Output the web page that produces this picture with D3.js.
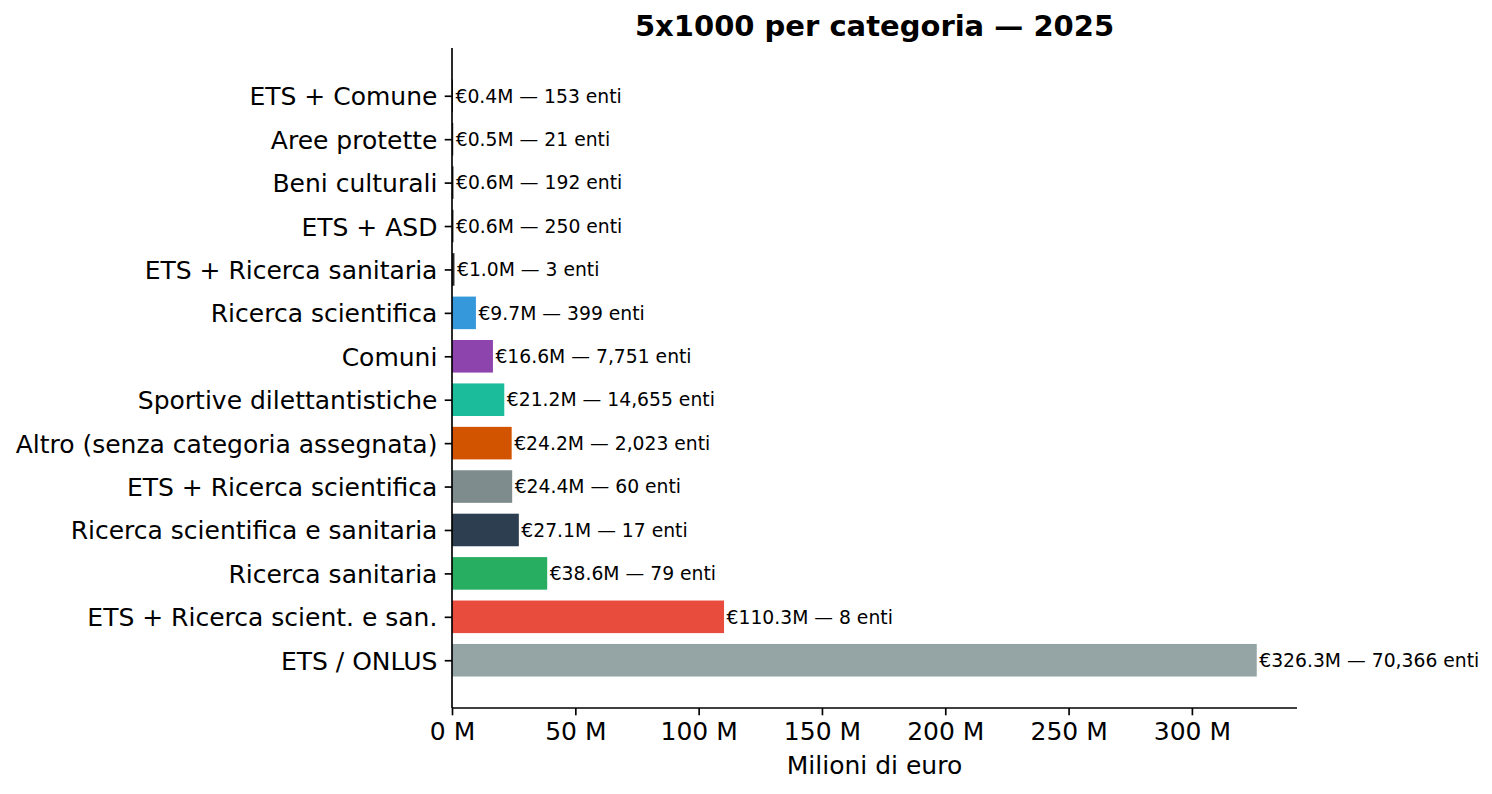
<!DOCTYPE html>
<html>
<head>
<meta charset="utf-8">
<script src="https://cdn.jsdelivr.net/npm/d3@7"></script>
<style>
  html, body { margin: 0; padding: 0; background: #ffffff; }
  svg { display: block; font-family: "DejaVu Sans", sans-serif; }
</style>
</head>
<body>
<svg id="chart" width="1492" height="794"></svg>
<script>
// Categories from bottom (largest) to top
const categories = [
  "ETS / ONLUS",
  "ETS + Ricerca scient. e san.",
  "Ricerca sanitaria",
  "Ricerca scientifica e sanitaria",
  "ETS + Ricerca scientifica",
  "Altro (senza categoria assegnata)",
  "Sportive dilettantistiche",
  "Comuni",
  "Ricerca scientifica",
  "ETS + Ricerca sanitaria",
  "ETS + ASD",
  "Beni culturali",
  "Aree protette",
  "ETS + Comune"
];
const amounts = [326.3, 110.3, 38.6, 27.1, 24.4, 24.2, 21.2, 16.6, 9.7, 1.0, 0.6, 0.6, 0.5, 0.4];
const entiCounts = [70366, 8, 79, 17, 60, 2023, 14655, 7751, 399, 3, 250, 192, 21, 153];
const barColors = ["#95a5a6", "#e74c3c", "#27ae60", "#2c3e50", "#7f8c8d", "#d35400",
                   "#1abc9c", "#8e44ad", "#3498db", "#2c2c2c", "#2c2c2c", "#2c2c2c", "#2c2c2c", "#2c2c2c"];
const xTickValues = [0, 50, 100, 150, 200, 250, 300];
const titleText = "5x1000 per categoria \u2014 2025";
const xLabelText = "Milioni di euro";

const svg = d3.select("#chart");
const margin = { left: 452, right: 1297, top: 48, bottom: 708 };

const xMax = d3.max(amounts) * 1.05;
const x = d3.scaleLinear().domain([0, xMax]).range([margin.left, margin.right]);
const n = categories.length;
const pad = 1.1;
const y = d3.scaleLinear().domain([-pad, n - 1 + pad]).range([margin.bottom, margin.top]);
const barH = 0.75;
const unit = Math.abs(y(1) - y(0));

const data = categories.map((c, i) => ({ cat: c, v: amounts[i], n: entiCounts[i], color: barColors[i], i }));

// Bars
svg.append("g").selectAll("rect").data(data).join("rect")
  .attr("x", x(0))
  .attr("y", d => y(d.i) - unit * barH / 2)
  .attr("width", d => x(d.v) - x(0))
  .attr("height", unit * barH)
  .attr("fill", d => d.color);

// Annotations
const fmtInt = d3.format(",");
svg.append("g").selectAll("text").data(data).join("text")
  .attr("x", d => x(d.v) + 2.5)
  .attr("y", d => y(d.i))
  .attr("dy", "0.36em")
  .attr("font-size", "18.75px")
  .attr("fill", "#000")
  .text(d => "\u20ac" + d.v.toFixed(1) + "M \u2014 " + fmtInt(d.n) + " enti");

// X axis
const xAxis = d3.axisBottom(x).tickValues(xTickValues).tickFormat(d => d + " M")
  .tickSize(7.3).tickPadding(7.3);
const gx = svg.append("g").attr("transform", `translate(0,${margin.bottom})`).call(xAxis);
gx.select(".domain").attr("stroke", "#000").attr("stroke-width", 1.67)
  .attr("d", `M${margin.left},0H${margin.right}`);
gx.selectAll(".tick line").attr("stroke", "#000").attr("stroke-width", 1.67);
gx.selectAll(".tick text").attr("font-size", "25px").attr("font-family", "DejaVu Sans").attr("fill", "#000");

// Y axis
const yAxis = d3.axisLeft(y).tickValues(d3.range(n)).tickFormat(i => categories[i])
  .tickSize(7.3).tickPadding(7.3);
const gy = svg.append("g").attr("transform", `translate(${margin.left},0)`).call(yAxis);
gy.select(".domain").attr("stroke", "#000").attr("stroke-width", 1.67)
  .attr("d", `M0,${margin.top}V${margin.bottom}`);
gy.selectAll(".tick line").attr("stroke", "#000").attr("stroke-width", 1.67);
gy.selectAll(".tick text").attr("font-size", "25px").attr("font-family", "DejaVu Sans").attr("fill", "#000")
  .attr("dy", "0.36em");

// Title
svg.append("text")
  .attr("x", (margin.left + margin.right) / 2)
  .attr("y", 36)
  .attr("text-anchor", "middle")
  .attr("font-size", "29px")
  .attr("font-weight", "bold")
  .attr("fill", "#000")
  .text(titleText);

// X label
svg.append("text")
  .attr("x", (margin.left + margin.right) / 2)
  .attr("y", 774)
  .attr("text-anchor", "middle")
  .attr("font-size", "25px")
  .attr("fill", "#000")
  .text(xLabelText);
</script>
</body>
</html>
